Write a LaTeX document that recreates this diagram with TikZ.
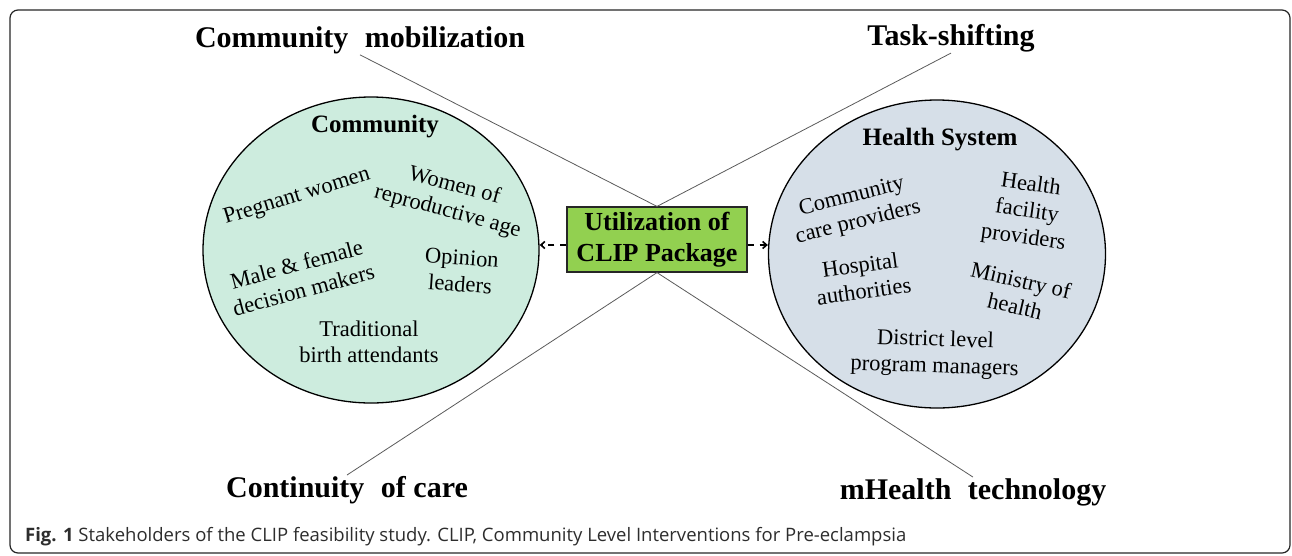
\documentclass[tikz,border=0pt]{standalone}
\usepackage{fontspec}
\setmainfont{Liberation Serif}
\newfontfamily\capfont{Open Sans}
\usetikzlibrary{shapes.geometric,arrows.meta}
\definecolor{commfill}{RGB}{205,236,222}
\definecolor{hsfill}{RGB}{214,223,232}
\definecolor{boxfill}{RGB}{146,208,80}
\definecolor{linegray}{RGB}{90,90,90}
\definecolor{capgray}{RGB}{45,45,45}
\tikzset{
  toplabel/.style={font=\fontsize{30}{34}\selectfont\bfseries, inner sep=1pt},
  head/.style={font=\fontsize{25}{28}\selectfont\bfseries, inner sep=0pt},
  item/.style={font=\fontsize{22.5}{26.5}\selectfont, align=center, inner sep=0pt},
  blob/.style={ellipse, draw=black, line width=1.3pt, minimum width=336pt, minimum height=306pt, inner sep=0pt},
  spoke/.style={draw=linegray, line width=0.8pt},
  dasharrow/.style={line width=1.6pt, dash pattern=on 6pt off 6pt, -{Straight Barb[length=4pt,width=7pt]}},
}
\begin{document}
\begin{tikzpicture}[x=1pt,y=-1pt]
\useasboundingbox (0,0) rectangle (1292,555);
\draw[rounded corners=8pt, line width=1.2pt, draw=black!85] (10,10) rectangle (1290,553);

% circles
\node[blob, fill=commfill] (comm) at (371,250) {};
\node[blob, fill=hsfill, minimum width=337pt, minimum height=308pt] (hs) at (937,254) {};

% central box
\node[draw=black!85, line width=1.2pt, fill=boxfill, minimum width=180pt, minimum height=65pt,
      align=center, inner sep=0pt, font=\fontsize{26}{31}\selectfont\bfseries] (box) at (657,239.5)
      {Utilization of\\CLIP Package};

% top/bottom labels
\node[toplabel] (cm) at (360,40) {Community\hspace{0.3em} mobilization};
\node[toplabel] (ts) at (951,38) {Task-shifting};
\node[toplabel] (coc) at (347,490) {Continuity\hspace{0.3em} of care};
\node[toplabel] (mh) at (973,492) {mHealth\hspace{0.3em} technology};

% spokes
\draw[spoke] (cm.south) -- (box.north);
\draw[spoke] (ts.south) -- (box.north);
\draw[spoke] (box.south) -- (coc.north);
\draw[spoke] (box.south) -- (mh.north);

% arrows
\draw[dasharrow] (box.west |- 0,245) -- (comm.east |- 0,245);
\draw[dasharrow] (box.east |- 0,245) -- (hs.west |- 0,245);

% community items
\node[head] (commhead) at (375,127) {Community};
\node[item, rotate=17] (preg) at (297,197) {Pregnant women};
\node[item, rotate=-15] (wora) at (451,199) {Women of\\reproductive age};
\node[item, rotate=15] (mfdm) at (300,277) {Male \& female\\decision makers};
\node[item, rotate=-4] (opin) at (461,271) {Opinion\\leaders};
\node[item] (tba) at (369,342) {Traditional\\birth attendants};

% health system items
\node[head] (hshead) at (940,140) {Health System};
\node[item, rotate=14] (ccp) at (855,210) {Community\\care providers};
\node[item, rotate=-8] (hfp) at (1027,212) {Health\\facility\\providers};
\node[item, rotate=8] (hosp) at (862,278) {Hospital\\authorities};
\node[item, rotate=-13] (moh) at (1018,293) {Ministry of\\health};
\node[item, rotate=-2] (dlpm) at (935,354) {District level\\program managers};

% caption
\node[anchor=west, inner sep=0pt, text=capgray, font=\capfont\fontsize{18.5}{21}\selectfont] (cap) at (25,537)
  {\textbf{Fig. 1} Stakeholders of the CLIP feasibility study. CLIP, Community Level Interventions for Pre-eclampsia};
\end{tikzpicture}
\end{document}
